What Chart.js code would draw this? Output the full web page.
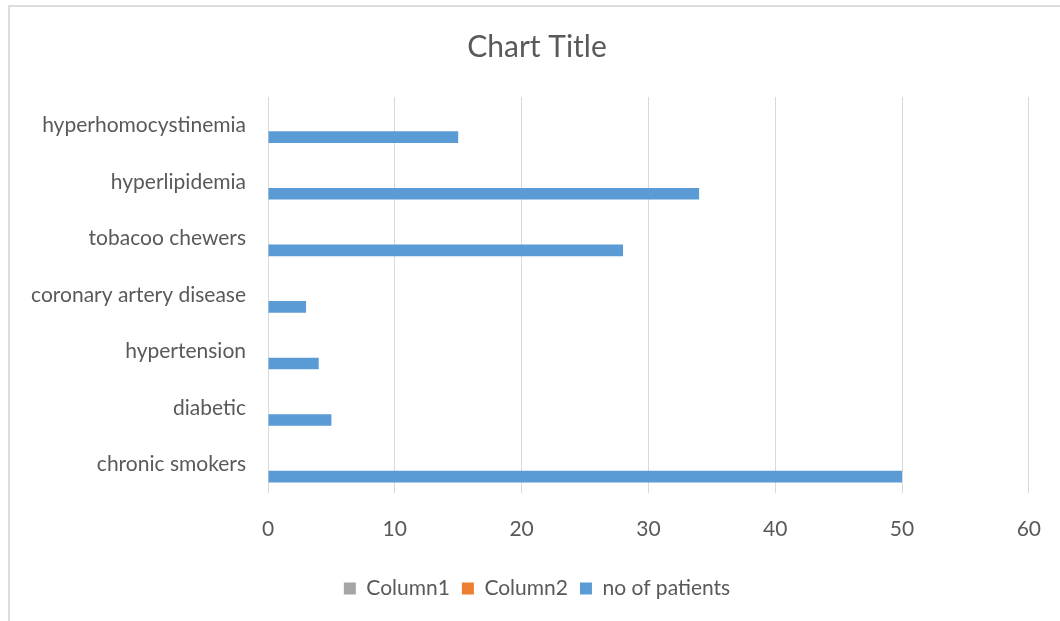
<!DOCTYPE html>
<html>
<head>
<meta charset="utf-8">
<script src="https://cdn.jsdelivr.net/npm/chart.js@4.4.1/dist/chart.umd.min.js"></script>
<style>
    html, body { margin: 0; padding: 0; background: #fff; overflow: hidden; }
    #frame {
        position: absolute; left: 8px; top: 5px;
        width: 1100px; height: 700px;
        border-left: 2px solid #dcdcdc; border-top: 2px solid #dcdcdc;
    }
    #wrap { position: absolute; left: 9px; top: 6px; width: 1056px; height: 615px; }
</style>
</head>
<body>
<div id="frame"></div>
<div id="wrap"><canvas id="myChart"></canvas></div>
<script>
// risk factors, listed top to bottom
var categories = ['hyperhomocystinemia', 'hyperlipidemia', 'tobacoo chewers', 'coronary artery disease', 'hypertension', 'diabetic', 'chronic smokers'];
var column1 = [null, null, null, null, null, null, null];
var column2 = [null, null, null, null, null, null, null];
var patients = [15, 34, 28, 3, 4, 5, 50];
var xTicks = [0, 10, 20, 30, 40, 50, 60];

var textColor = '#595959';
var fontFamily = 'Lato, "Open Sans", sans-serif';

// let the long category labels run into the left padding instead of being clipped
var labelRoom = {
    id: 'labelRoom',
    afterLayout: function (chart) {
        chart.scales.y.left = 0;
    }
};

var ctx = document.getElementById('myChart').getContext('2d');
var config = {
    type: 'bar',
    data: {
        labels: categories,
        datasets: [
            { label: 'Column1', data: column1, backgroundColor: '#a5a5a5' },
            { label: 'Column2', data: column2, backgroundColor: '#ed7d31' },
            { label: 'no of patients', data: patients, backgroundColor: '#5b9bd5' }
        ]
    },
    options: {
        indexAxis: 'y',
        responsive: true,
        maintainAspectRatio: false,
        animation: false,
        categoryPercentage: 0.63,
        barPercentage: 0.98,
        // equal side padding keeps the title and legend centred on the canvas
        layout: { padding: { left: 35, right: 35, top: 0, bottom: 12 } },
        plugins: {
            title: {
                display: true,
                text: 'Chart Title',
                color: textColor,
                font: { family: fontFamily, size: 30, weight: 'normal' },
                padding: { top: 23, bottom: 32 }
            },
            legend: {
                position: 'bottom',
                labels: {
                    color: textColor,
                    font: { family: fontFamily, size: 21 },
                    boxWidth: 12,
                    boxHeight: 12,
                    padding: 12
                }
            },
            tooltip: { enabled: false }
        },
        scales: {
            x: {
                min: 0,
                max: 60,
                afterBuildTicks: function (scale) {
                    scale.ticks = xTicks.map(function (v) { return { value: v }; });
                },
                afterFit: function (scale) { scale.height = 73; },
                grid: { color: '#d9d9d9', drawTicks: false },
                border: { display: false },
                ticks: {
                    color: textColor,
                    padding: 24,
                    font: { family: fontFamily, size: 21 }
                }
            },
            y: {
                afterFit: function (scale) { scale.width = 224; },
                grid: { display: false, drawTicks: false },
                border: { display: false },
                ticks: {
                    color: textColor,
                    padding: 22,
                    font: { family: fontFamily, size: 21 }
                }
            }
        }
    },
    plugins: [labelRoom]
};

var myChart = new Chart(ctx, config);
</script>
</body>
</html>
